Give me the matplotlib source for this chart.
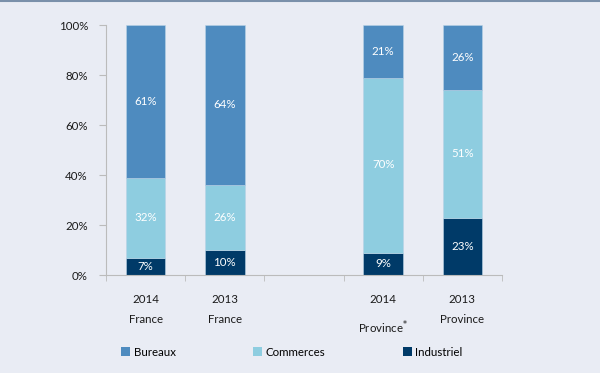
import matplotlib
matplotlib.use("Agg")
import matplotlib.pyplot as plt
from matplotlib.patches import Patch
import numpy as np

categories = ["2014\nFrance", "2013\nFrance", "", "2014\nProvince$^{*}$", "2013\nProvince"]
industriel = [7, 10, None, 9, 23]
commerces = [32, 26, None, 70, 51]
bureaux = [61, 64, None, 21, 26]
series_names = ["Bureaux", "Commerces", "Industriel"]
yticks = [0, 20, 40, 60, 80, 100]

c_bur = "#4E8BBF"
c_com = "#8ECDE0"
c_ind = "#003A68"
bg = "#E9ECF4"
fs = 8.3

plt.rcParams['font.family'] = ['Lato', 'DejaVu Sans']

fig = plt.figure(figsize=(6, 3.73), dpi=100, facecolor=bg)
ax = fig.add_axes([106/600, 1-275/373, 396/600, 250/373])
ax.set_facecolor(bg)

x = np.arange(len(categories))
w = 0.5
for i in range(len(categories)):
    if industriel[i] is None:
        continue
    vals = [industriel[i], commerces[i], bureaux[i]]
    cols = [c_ind, c_com, c_bur]
    bottom = 0
    for v, c in zip(vals, cols):
        ax.bar(x[i], v, w, bottom=bottom, color=c, edgecolor="#B9D3E6", linewidth=0.4)
        ax.text(x[i], bottom + v/2, f"{v}%", ha="center", va="center",
                color="white", fontsize=fs)
        bottom += v

ax.set_xlim(-0.5, len(categories)-0.5)
ax.set_ylim(0, 100)
ax.set_yticks(yticks)
ax.set_yticklabels([f"{t}%" for t in yticks])
ax.set_xticks(x)
ax.set_xticklabels(categories, linespacing=2.0)
ax.tick_params(axis='both', labelsize=fs, labelcolor="#1A1A1A")
ax.tick_params(axis='x', length=0, pad=14)
ax.set_xticks(np.arange(-0.5, len(categories)), minor=True)
ax.tick_params(axis='x', which='minor', length=4, color="#BBBBBB", direction='out')
ax.tick_params(axis='y', length=5, color="#BBBBBB", direction='out', pad=8)
for s in ["top", "right"]:
    ax.spines[s].set_visible(False)
ax.spines["left"].set_color("#BBBBBB")
ax.spines["bottom"].set_color("#BBBBBB")

handles = [Patch(facecolor=c_bur), Patch(facecolor=c_com), Patch(facecolor=c_ind)]
fig.legend(handles, series_names, loc="center left", bbox_to_anchor=(121/600, 1-352/373),
           ncol=3, frameon=False, fontsize=fs, handlelength=0.8, handleheight=0.8,
           handletextpad=0.3, columnspacing=6.7, borderaxespad=0, borderpad=0)

fig.add_artist(plt.Line2D([0, 1], [0.998, 0.998], color="#7A90AA", linewidth=1.5,
                          transform=fig.transFigure))

fig.savefig("out.png", dpi=100, facecolor=bg)
